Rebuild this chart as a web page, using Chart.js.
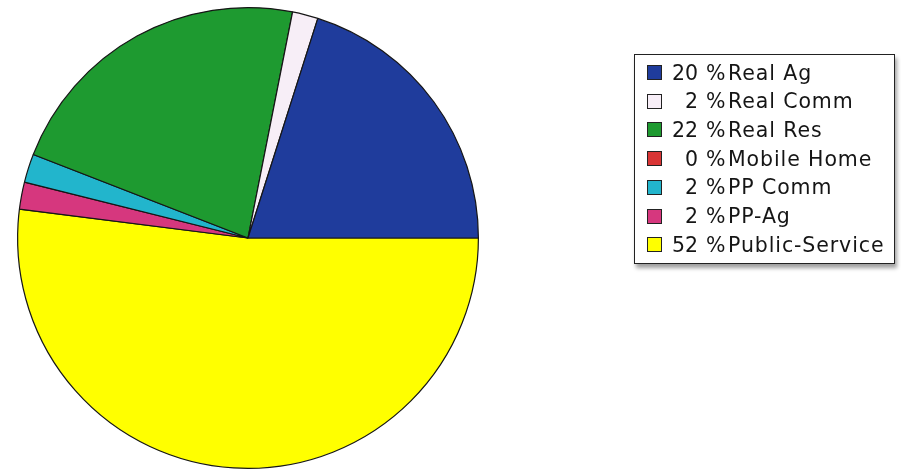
<!DOCTYPE html>
<html>
<head>
<meta charset="utf-8">
<script src="https://cdn.jsdelivr.net/npm/chart.js@4/dist/chart.umd.min.js"></script>
<style>
  html, body { margin: 0; padding: 0; background: #ffffff; }
  #wrap { position: relative; width: 901px; height: 470px; }
  #c { position: absolute; left: 0; top: 0; }
  #legend {
    position: absolute; left: 634px; top: 54px; width: 261px; height: 210px;
    border: 1.5px solid #222; background: #fff; box-sizing: border-box;
    box-shadow: 2px 4px 4px #a0a0a0;
    font-family: "DejaVu Sans", Verdana, sans-serif; font-size: 20.5px; color: #151515;
  }
  .row { position: absolute; left: 0; width: 100%; height: 24px; white-space: nowrap; }
  .row > span { position: absolute; top: 0; line-height: 24px; }
  .sw { left: 12px; top: 4.5px !important; width: 15px; height: 15px; border: 1.5px solid #222; box-sizing: border-box; }
  .pct { left: 0; width: 63px; text-align: right; }
  .pc { left: 71px; }
  .nm { left: 93px; letter-spacing: 0.9px; }
</style>
</head>
<body>
<div id="wrap">
  <canvas id="c" width="901" height="470"></canvas>
  <div id="legend"></div>
</div>
<script>
// Categories (legend order, counter-clockwise from 3 o'clock)
const categories = ["Real Ag", "Real Comm", "Real Res", "Mobile Home", "PP Comm", "PP-Ag", "Public-Service"];
// Share of total, %
const shares = [20.1, 1.8, 22.2, 0, 2.0, 1.9, 52.0];
// Percent labels shown in the legend
const pctLabels = ["20", "2", "22", "0", "2", "2", "52"];
// Slice colours
const colors = ["#1f3c9c", "#f7eef7", "#1e9a30", "#d93535", "#22b5cc", "#d6377e", "#ffff00"];

// Chart.js draws clockwise; reference draws counter-clockwise from 3 o'clock,
// so feed the slices in reverse order.
const revIdx = categories.map((_, i) => categories.length - 1 - i);

new Chart(document.getElementById('c'), {
  type: 'pie',
  data: {
    labels: revIdx.map(i => categories[i]),
    datasets: [{
      data: revIdx.map(i => shares[i]),
      backgroundColor: revIdx.map(i => colors[i]),
      borderColor: '#161616',
      borderWidth: 1.2
    }]
  },
  options: {
    responsive: false,
    animation: false,
    rotation: 90,
    layout: { padding: { left: 17, top: 7, bottom: 1, right: 422 } },
    plugins: { legend: { display: false }, tooltip: { enabled: false } }
  }
});

const lg = document.getElementById('legend');
categories.forEach((name, i) => {
  const row = document.createElement('div');
  row.className = 'row';
  row.style.top = (19 - 12 - 1.5 + i * 28.7) + 'px';
  const sw = document.createElement('span'); sw.className = 'sw'; sw.style.background = colors[i];
  const p = document.createElement('span'); p.className = 'pct'; p.textContent = pctLabels[i];
  const pc = document.createElement('span'); pc.className = 'pc'; pc.textContent = '%';
  const nm = document.createElement('span'); nm.className = 'nm'; nm.textContent = name;
  row.append(sw, p, pc, nm);
  lg.appendChild(row);
});
</script>
</body>
</html>
